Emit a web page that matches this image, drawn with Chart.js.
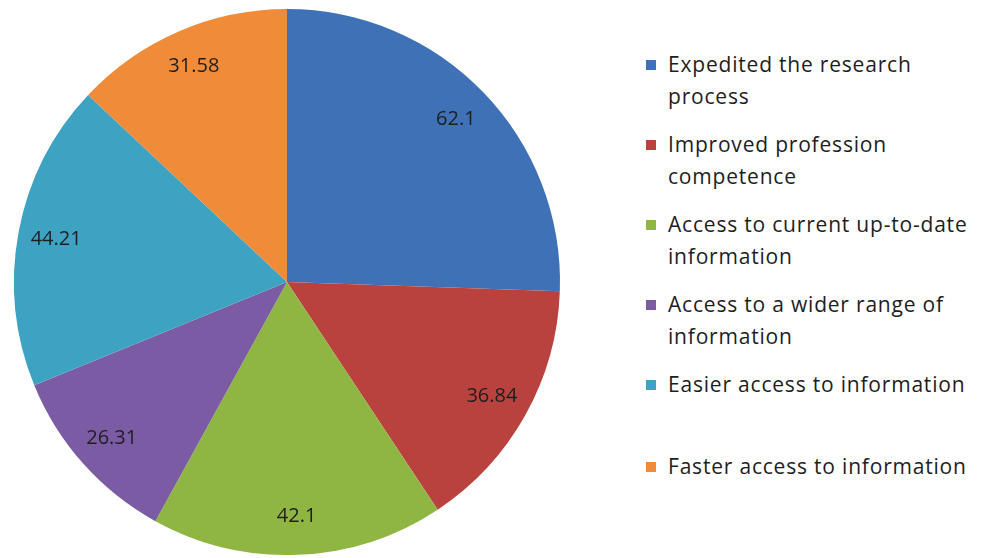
<!DOCTYPE html>
<html>
<head>
<meta charset="utf-8">
<script src="https://cdn.jsdelivr.net/npm/chart.js@4"></script>
<style>
    html, body { margin: 0; padding: 0; background: #fff; }
    #wrap { position: relative; width: 984px; height: 558px; font-family: "Open Sans", sans-serif; }
    #pieBox { position: absolute; left: 0; top: 0; width: 574px; height: 558px; }
    #legend { position: absolute; left: 646px; top: 48px; width: 338px; color: #1e1e1e; font-size: 21px; letter-spacing: 0.8px; line-height: 32px; white-space: nowrap; }
    .item { position: relative; padding-left: 22px; }
    .swatch { position: absolute; left: 0; top: 12px; width: 10px; height: 10px; }
</style>
</head>
<body>
<div id="wrap">
    <div id="pieBox"><canvas id="pieChart"></canvas></div>
    <div id="legend"></div>
</div>
<script>
const categories = [
    'Expedited the research process',
    'Improved profession competence',
    'Access to current up-to-date information',
    'Access to a wider range of information',
    'Easier access to information',
    'Faster access to information'
];
const legendLines = [
    ['Expedited the research', 'process'],
    ['Improved profession', 'competence'],
    ['Access to current up-to-date', 'information'],
    ['Access to a wider range of', 'information'],
    ['Easier access to information'],
    ['Faster access to information']
];
const values = [62.1, 36.84, 42.1, 26.31, 44.21, 31.58];
const colors = ['#3f71b6', '#ba423e', '#8fb543', '#7b5ca4', '#3ea3c2', '#f08b3a'];

// gaps above each legend entry (px)
const legendGaps = [0, 16, 16, 16, 16, 50];

const legendEl = document.getElementById('legend');
legendLines.forEach((lines, i) => {
    const div = document.createElement('div');
    div.className = 'item';
    div.style.marginTop = legendGaps[i] + 'px';
    div.innerHTML = `<span class="swatch" style="background:${colors[i]}"></span>` + lines.join('<br>');
    legendEl.appendChild(div);
});

// draws the value inside each slice
const sliceLabels = {
    id: 'sliceLabels',
    afterDatasetsDraw(chart) {
        const ctx = chart.ctx;
        const meta = chart.getDatasetMeta(0);
        ctx.save();
        ctx.font = '20px "Open Sans", sans-serif';
        ctx.fillStyle = '#1e1e1e';
        ctx.textAlign = 'center';
        ctx.textBaseline = 'middle';
        meta.data.forEach((arc, i) => {
            const p = arc.getProps(['x', 'y', 'startAngle', 'endAngle', 'outerRadius'], true);
            const mid = (p.startAngle + p.endAngle) / 2;
            const r = p.outerRadius * 0.86;
            ctx.fillText(String(values[i]), p.x + Math.cos(mid) * r, p.y + Math.sin(mid) * r);
        });
        ctx.restore();
    }
};

new Chart(document.getElementById('pieChart'), {
    type: 'pie',
    data: {
        labels: categories,
        datasets: [{
            data: values,
            backgroundColor: colors,
            borderWidth: 0
        }]
    },
    options: {
        responsive: true,
        maintainAspectRatio: false,
        animation: false,
        layout: { padding: { top: 9, bottom: 3, left: 0, right: 0 } },
        plugins: {
            legend: { display: false },
            tooltip: { enabled: false }
        }
    },
    plugins: [sliceLabels]
});
</script>
</body>
</html>
